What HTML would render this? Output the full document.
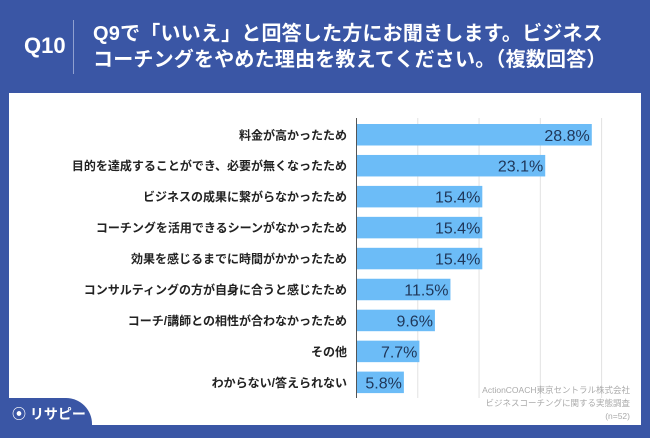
<!DOCTYPE html>
<html><head><meta charset="utf-8">
<style>
body{margin:0;width:650px;height:434px;background:#3a56a5;overflow:hidden;font-family:"Liberation Sans","Noto Sans CJK JP",sans-serif;position:relative}
#panel{position:absolute;left:9px;top:93px;width:632px;height:332px;background:#fff}
#q{position:absolute;left:24px;top:33px;color:#fff;font-size:22px;font-weight:bold}
#div{position:absolute;left:73px;top:20px;width:1px;height:54px;background:#8fa0d0}
#title{position:absolute;left:93px;top:21px;color:#fff;font-size:20px;line-height:26px;letter-spacing:0.2px;white-space:nowrap;font-weight:bold}
#tab{position:absolute;left:0;top:398px;width:92px;height:40px;background:#3a56a5;border-top-right-radius:26px}
#logo{position:absolute;left:12px;top:404px;color:#fff;font-size:14px;font-weight:bold}
svg{position:absolute;left:0;top:0}
</style></head><body>
<div id="panel"></div>
<div id="q">Q10</div>
<div id="div"></div>
<div id="title">Q9で「いいえ」と回答した方にお聞きします。ビジネス<br>コーチングをやめた理由を教えてください。（複数回答）</div>
<svg id="chart" width="650" height="434"></svg>
<div id="tab"></div>
<div id="logo">⦿ リサピー</div>
<script>
const categories=["料金が高かったため","目的を達成することができ、必要が無くなったため","ビジネスの成果に繋がらなかったため","コーチングを活用できるシーンがなかったため","効果を感じるまでに時間がかかったため","コンサルティングの方が自身に合うと感じたため","コーチ/講師との相性が合わなかったため","その他","わからない/答えられない"];
const values=[28.8,23.1,15.4,15.4,15.4,11.5,9.6,7.7,5.8];
const gridTicks=[7.5,15,22.5,30];
const NS="http://www.w3.org/2000/svg";
const svg=document.getElementById('chart');
const x0=356.5,pxPer=8.17,yTop=124,pitch=30.95,bh=21.5;
const xs=v=>x0+v*pxPer;
const ys=i=>yTop+i*pitch;
function mk(t,a){const e=document.createElementNS(NS,t);for(const k in a)e.setAttribute(k,a[k]);svg.appendChild(e);return e;}
gridTicks.forEach(t=>{const l=mk('line',{x1:xs(t),x2:xs(t),y1:118,y2:398,stroke:'#e2e2e2','stroke-width':1});

});
values.forEach((v,i)=>{
const r=mk('rect',{x:x0,y:ys(i),width:xs(v)-x0,height:bh,fill:'#6cbcf7'});


const t=mk('text',{x:xs(v)-2,y:ys(i)+bh/2+6,'text-anchor':'end','font-size':16,fill:'#1f3658'});
t.textContent=v.toFixed(1)+'%';


const c=mk('text',{x:347,y:ys(i)+bh/2+4.5,'text-anchor':'end','font-size':12,'font-weight':'bold',fill:'#222'});
c.textContent=categories[i];


});
const ax=mk('line',{x1:x0,x2:x0,y1:118,y2:398,stroke:'#555','stroke-width':1});


["ActionCOACH東京セントラル株式会社","ビジネスコーチングに関する実態調査","(n=52)"].forEach((s,i)=>{
const t=mk('text',{x:630,y:393+i*13,'text-anchor':'end','font-size':8.5,fill:'#aaa'});
t.textContent=s;

});
</script>
</body></html>
